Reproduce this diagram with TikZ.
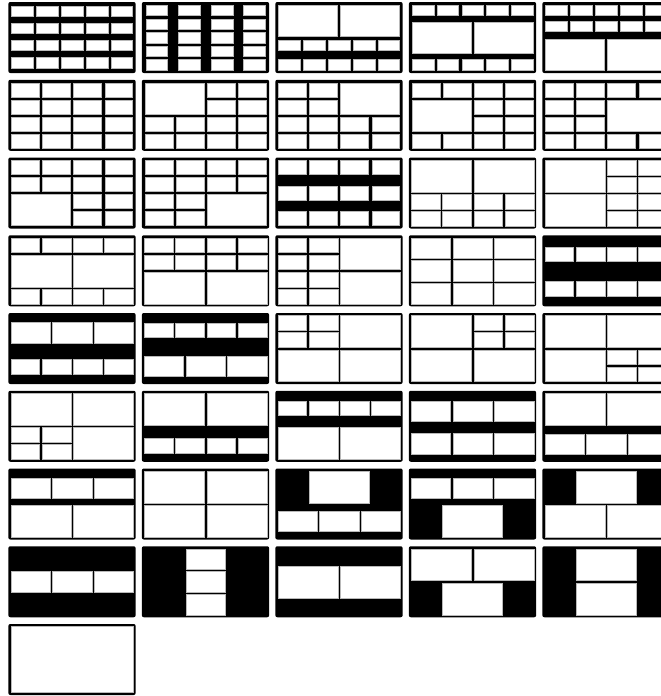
\documentclass[tikz,border=0pt]{standalone}
\tikzset{win/.style={fill=white,draw=gray!55,line width=0.25pt}}
\newcommand\wcell[4]{\path[win] ([xshift=\wHg pt,yshift=-\wHg pt]#1,#2) rectangle ([xshift=-\wHg pt,yshift=\wHg pt]#3,#4);}
\newcommand\wgrid[6]{%
 \foreach \wii in {1,...,#5}{\foreach \wjj in {1,...,#6}{%
 \pgfmathsetmacro\wXa{#1+(#3-#1)*(\wii-1)/#5}%
 \pgfmathsetmacro\wXb{#1+(#3-#1)*\wii/#5}%
 \pgfmathsetmacro\wYa{#2+(#4-#2)*(\wjj-1)/#6}%
 \pgfmathsetmacro\wYb{#2+(#4-#2)*\wjj/#6}%
 \wcell{\wXa}{\wYa}{\wXb}{\wYb}}}}
\newcommand\wpanel[4]{%
 \begin{scope}[shift={({8.3+133.5*#1},{2+77.75*#2})}]
 \fill[black,rounded corners=2pt] (0,0) rectangle (127.4,71);
 \pgfmathsetmacro\wHg{#3/2}%
 \pgfmathsetmacro\wUx{(127.4-#3)/16}%
 \pgfmathsetmacro\wUy{(71-#3)/9}%
 \begin{scope}[shift={(\wHg,\wHg)},x=\wUx pt,y=-\wUy pt]
 #4
 \end{scope}
 \end{scope}}
\def\T{3.1}
\def\t{2.4}
\begin{document}
\begin{tikzpicture}[x=1pt,y=-1pt]
\useasboundingbox (0,0) rectangle (661,696);
\clip (0,0) rectangle (661,696);
\fill[white] (0,0) rectangle (661,696);
% row 0
\wpanel{0}{0}{\T}{\wgrid{0}{0.1}{16}{1.85}{5}{1}\wgrid{0}{2.4}{16}{4.15}{5}{1}\wgrid{0}{4.65}{16}{6.4}{5}{1}\wgrid{0}{6.95}{16}{8.8}{5}{1}}
\wpanel{1}{0}{\T}{\wgrid{0.1}{0}{3.3}{9}{1}{5}\wgrid{4.3}{0}{7.5}{9}{1}{5}\wgrid{8.5}{0}{11.7}{9}{1}{5}\wgrid{12.7}{0}{15.9}{9}{1}{5}}
\wpanel{2}{0}{\T}{\wgrid{0}{0}{16}{4.5}{2}{1}\wgrid{0}{4.6}{16}{6.35}{5}{1}\wgrid{0}{7.2}{16}{9}{5}{1}}
\wpanel{3}{0}{\T}{\wgrid{0}{0}{16}{1.8}{5}{1}\wgrid{0}{2.25}{16}{6.75}{2}{1}\wgrid{0}{7.2}{16}{9}{5}{1}}
\wpanel{4}{0}{\T}{\wgrid{0}{0}{16}{1.8}{5}{1}\wgrid{0}{2.1}{16}{3.9}{5}{1}\wgrid{0}{4.5}{16}{9}{2}{1}}
% row 1
\wpanel{0}{1}{\T}{\wgrid{0}{0}{16}{9}{4}{4}}
\wpanel{1}{1}{\T}{\wcell{0}{0}{8}{4.5}\wgrid{8}{0}{16}{4.5}{2}{2}\wgrid{0}{4.5}{16}{9}{4}{2}}
\wpanel{2}{1}{\T}{\wgrid{0}{0}{8}{4.5}{2}{2}\wcell{8}{0}{16}{4.5}\wgrid{0}{4.5}{16}{9}{4}{2}}
\wpanel{3}{1}{\T}{\wgrid{0}{0}{16}{2.25}{4}{1}\wcell{0}{2.25}{8}{6.75}\wgrid{8}{2.25}{16}{6.75}{2}{2}\wgrid{0}{6.75}{16}{9}{4}{1}}
\wpanel{4}{1}{\T}{\wgrid{0}{0}{16}{2.25}{4}{1}\wgrid{0}{2.25}{8}{6.75}{2}{2}\wcell{8}{2.25}{16}{6.75}\wgrid{0}{6.75}{16}{9}{4}{1}}
% row 2
\wpanel{0}{2}{\T}{\wgrid{0}{0}{16}{4.5}{4}{2}\wcell{0}{4.5}{8}{9}\wgrid{8}{4.5}{16}{9}{2}{2}}
\wpanel{1}{2}{\T}{\wgrid{0}{0}{16}{4.5}{4}{2}\wgrid{0}{4.5}{8}{9}{2}{2}\wcell{8}{4.5}{16}{9}}
\wpanel{2}{2}{\T}{\wgrid{0}{0}{16}{2.25}{4}{1}\wgrid{0}{3.4}{16}{5.65}{4}{1}\wgrid{0}{6.75}{16}{9}{4}{1}}
\wpanel{3}{2}{\t}{\wgrid{0}{0}{16}{4.5}{2}{1}\wgrid{0}{4.5}{16}{9}{4}{2}}
\wpanel{4}{2}{\t}{\wgrid{0}{0}{8}{9}{1}{2}\wgrid{8}{0}{16}{9}{2}{4}}
% row 3
\wpanel{0}{3}{\t}{\wgrid{0}{0}{16}{2.25}{4}{1}\wgrid{0}{2.25}{16}{6.75}{2}{1}\wgrid{0}{6.75}{16}{9}{4}{1}}
\wpanel{1}{3}{\t}{\wgrid{0}{0}{16}{4.5}{4}{2}\wgrid{0}{4.5}{16}{9}{2}{1}}
\wpanel{2}{3}{\t}{\wgrid{0}{0}{8}{9}{2}{4}\wgrid{8}{0}{16}{9}{1}{2}}
\wpanel{3}{3}{\t}{\wgrid{0}{0}{16}{9}{3}{3}}
\wpanel{4}{3}{\t}{\wgrid{0}{1.2}{16}{3.45}{4}{1}\wgrid{0}{5.7}{16}{7.95}{4}{1}}
% row 4
\wpanel{0}{4}{\t}{\wgrid{0}{0.9}{16}{3.9}{3}{1}\wgrid{0}{5.8}{16}{8.05}{4}{1}}
\wpanel{1}{4}{\t}{\wgrid{0}{0.95}{16}{3.2}{4}{1}\wgrid{0}{5.3}{16}{8.3}{3}{1}}
\wpanel{2}{4}{\t}{\wgrid{0}{0}{8}{4.5}{2}{2}\wcell{8}{0}{16}{4.5}\wgrid{0}{4.5}{16}{9}{2}{1}}
\wpanel{3}{4}{\t}{\wcell{0}{0}{8}{4.5}\wgrid{8}{0}{16}{4.5}{2}{2}\wgrid{0}{4.5}{16}{9}{2}{1}}
\wpanel{4}{4}{\t}{\wgrid{0}{0}{16}{4.5}{2}{1}\wcell{0}{4.5}{8}{9}\wgrid{8}{4.5}{16}{9}{2}{2}}
% row 5
\wpanel{0}{5}{\t}{\wgrid{0}{0}{16}{4.5}{2}{1}\wgrid{0}{4.5}{8}{9}{2}{2}\wcell{8}{4.5}{16}{9}}
\wpanel{1}{5}{\t}{\wgrid{0}{0}{16}{4.5}{2}{1}\wgrid{0}{5.95}{16}{8.2}{4}{1}}
\wpanel{2}{5}{\t}{\wgrid{0}{1.0}{16}{3.25}{4}{1}\wgrid{0}{4.5}{16}{9}{2}{1}}
\wpanel{3}{5}{\t}{\wgrid{0}{1}{16}{4}{3}{1}\wgrid{0}{5.25}{16}{8.25}{3}{1}}
\wpanel{4}{5}{\t}{\wgrid{0}{0}{16}{4.5}{2}{1}\wgrid{0}{5.4}{16}{8.25}{3}{1}}
% row 6
\wpanel{0}{6}{\t}{\wgrid{0}{0.9}{16}{3.9}{3}{1}\wgrid{0}{4.5}{16}{9}{2}{1}}
\wpanel{1}{6}{\t}{\wgrid{0}{0}{16}{9}{2}{2}}
\wpanel{2}{6}{\t}{\wcell{4}{0}{12}{4.5}\wgrid{0}{5.25}{16}{8.25}{3}{1}}
\wpanel{3}{6}{\t}{\wgrid{0}{0.9}{16}{3.9}{3}{1}\wcell{4}{4.5}{12}{9}}
\wpanel{4}{6}{\t}{\wcell{4}{0}{12}{4.5}\wgrid{0}{4.5}{16}{9}{2}{1}}
% row 7
\wpanel{0}{7}{\t}{\wgrid{0}{3}{16}{6}{3}{1}}
\wpanel{1}{7}{\t}{\wgrid{5.333}{0}{10.667}{9}{1}{3}}
\wpanel{2}{7}{\t}{\wgrid{0}{2.25}{16}{6.75}{2}{1}}
\wpanel{3}{7}{\t}{\wgrid{0}{0}{16}{4.5}{2}{1}\wcell{4}{4.5}{12}{9}}
\wpanel{4}{7}{\t}{\wgrid{4}{0}{12}{9}{1}{2}}
% row 8
\wpanel{0}{8}{\t}{\wcell{0}{0}{16}{9}}
\end{tikzpicture}
\end{document}
